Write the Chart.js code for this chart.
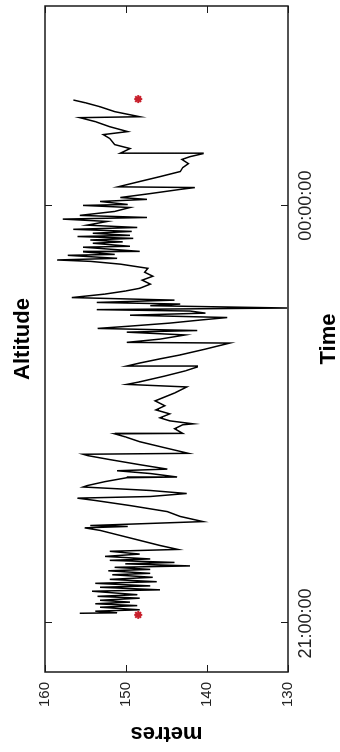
<!DOCTYPE html>
<html>
<head>
<meta charset="utf-8">
<script src="https://cdn.jsdelivr.net/npm/chart.js@4"></script>
<style>
  html, body { margin: 0; padding: 0; background: #fff; overflow: hidden; }
  /* the chart is drawn landscape and turned a quarter turn to the left */
  #wrap {
    position: absolute; left: 0; top: 0;
    width: 752px; height: 340px;
    transform-origin: 0 0;
    transform: translate(0, 752px) rotate(-90deg);
  }
</style>
</head>
<body>
<div id="wrap"><canvas id="myChart" width="752" height="340"></canvas></div>
<script>
// minutes after 21:00:00
const times = [
  4.4, 4.6, 5.3, 5.9, 7.0, 7.7, 8.5, 9.2, 10.0, 10.9,
  11.7, 12.4, 13.9, 14.5, 15.6, 16.2, 17.3, 18.0, 19.0, 19.9,
  21.0, 21.6, 22.7, 23.3, 24.2, 24.8, 25.7, 26.3, 27.2, 27.8,
  28.9, 29.9, 31.1, 31.9, 33.6, 35.8, 37.9, 40.1, 41.2, 41.8,
  42.2, 43.9, 46.1, 48.2, 50.8, 53.0, 54.0, 54.7, 56.0, 57.3,
  58.8, 59.4, 61.1, 62.8, 63.1, 64.6, 65.8, 66.5, 68.4, 70.6,
  72.3, 72.9, 73.3, 75.7, 78.3, 80.4, 81.7, 81.9, 83.9, 85.6,
  86.0, 87.3, 88.6, 90.3, 92.0, 93.8, 95.9, 97.6, 99.3, 101.9,
  103.0, 104.1, 106.6, 108.8, 110.5, 110.9, 112.2, 114.0, 115.7, 118.2,
  120.8, 121.1, 122.5, 124.3, 125.5, 126.2, 127.1, 128.1, 129.4, 130.7,
  131.8, 132.8, 133.7, 134.6, 135.2, 135.9, 136.9, 137.6, 138.3, 139.3,
  140.4, 141.9, 143.2, 144.4, 146.2, 147.9, 149.6, 151.3, 153.0, 154.8,
  156.0, 156.6, 157.3, 158.6, 159.0, 160.1, 160.3, 162.1, 162.5, 163.8,
  164.4, 165.2, 165.9, 166.7, 167.2, 168.1, 168.9, 169.8, 170.6, 171.6,
  173.2, 174.2, 174.9, 175.8, 177.5, 179.2, 180.1, 180.5, 181.8, 182.7,
  183.5, 185.2, 187.0, 187.8, 188.1, 190.4, 192.5, 194.7, 196.4, 198.1,
  199.9, 201.1, 202.4, 202.6, 204.6, 206.3, 208.9, 210.6, 211.9, 214.0,
  216.2, 217.9, 218.3, 220.5, 222.6, 224.3, 225.5
];

// metres
const altitude = [
  155.7, 151.1, 153.8, 148.3, 153.2, 148.6, 153.8, 149.5, 153.2, 148.3,
  153.5, 148.6, 154.2, 145.8, 153.2, 147.0, 153.8, 146.2, 152.0, 146.7,
  151.7, 147.0, 152.2, 147.0, 151.4, 142.1, 150.1, 144.0, 152.0, 147.0,
  152.6, 148.3, 152.0, 143.6, 145.8, 148.3, 150.7, 153.2, 155.1, 149.8,
  154.4, 140.5, 143.3, 144.9, 149.5, 153.8, 156.0, 147.0, 142.5, 147.0,
  155.3, 154.8, 152.6, 149.9, 143.7, 147.0, 151.1, 144.9, 148.3, 152.0,
  154.7, 155.3, 142.3, 145.2, 148.3, 150.1, 151.4, 143.0, 144.0, 143.0,
  141.7, 144.6, 145.8, 144.6, 146.3, 145.2, 146.4, 145.2, 144.0, 142.5,
  149.9, 148.3, 145.2, 142.7, 141.2, 149.9, 148.3, 145.8, 143.3, 140.2,
  137.2, 149.9, 145.8, 142.7, 149.9, 141.2, 153.5, 149.5, 144.6, 140.9,
  137.5, 149.5, 140.2, 142.1, 153.6, 130.1, 147.0, 143.3, 153.6, 144.0,
  156.7, 152.6, 150.1, 148.3, 147.0, 148.0, 146.7, 147.7, 147.3, 150.7,
  154.4, 158.5, 151.1, 157.2, 151.4, 155.3, 148.3, 155.3, 149.5, 154.1,
  150.4, 154.4, 149.1, 156.0, 149.5, 154.1, 149.3, 156.5, 148.6, 154.8,
  152.3, 157.8, 147.4, 155.7, 151.4, 149.5, 155.3, 149.8, 153.2, 147.4,
  150.7, 147.0, 143.3, 141.5, 151.0, 148.3, 145.8, 143.3, 143.0, 142.3,
  143.1, 142.1, 140.5, 150.7, 149.5, 151.4, 152.0, 152.8, 149.8, 152.0,
  153.8, 155.7, 148.3, 151.4, 153.2, 155.0, 156.5
];

// red markers at start and end
const markerTimes = [3.7, 225.9];
const markerValues = [148.5, 148.5];

// time axis
const timeTicks = [0, 180];
const timeLabels = ['21:00:00', '00:00:00'];
const timeMin = -20.9;
const timeMax = 266.0;

// metres axis
const altMin = 130;
const altMax = 160;

const FONT = '"Liberation Sans", Arial, Helvetica, sans-serif';

// box round the plot with short ticks pointing inwards
const frame = {
    id: 'frame',
    afterDatasetsDraw(chart) {
        const { ctx, chartArea: a, scales: { x, y } } = chart;
        ctx.save();
        ctx.strokeStyle = '#1a1a1a';
        ctx.lineWidth = 1;
        ctx.beginPath();
        x.ticks.forEach(t => {
            const px = Math.round(x.getPixelForValue(t.value)) + 0.5;
            ctx.moveTo(px, a.bottom); ctx.lineTo(px, a.bottom - 7);
            ctx.moveTo(px, a.top); ctx.lineTo(px, a.top + 7);
        });
        y.ticks.forEach(t => {
            const py = Math.round(y.getPixelForValue(t.value)) + 0.5;
            ctx.moveTo(a.left, py); ctx.lineTo(a.left + 7, py);
            ctx.moveTo(a.right, py); ctx.lineTo(a.right - 7, py);
        });
        ctx.stroke();
        ctx.lineWidth = 1.5;
        ctx.strokeRect(a.left, a.top, a.right - a.left, a.bottom - a.top);
        ctx.restore();
    }
};

const ctx = document.getElementById('myChart').getContext('2d');
const chart = new Chart(ctx, {
    type: 'line',
    data: {
        datasets: [
            {
                label: 'Markers',
                data: markerTimes.map((t, i) => ({ x: t, y: markerValues[i] })),
                showLine: false,
                pointStyle: 'star',
                pointRadius: 4,
                borderWidth: 2,
                borderColor: '#c8202c',
                backgroundColor: '#c8202c',
                order: 0
            },
            {
                label: 'Altitude',
                data: times.map((t, i) => ({ x: t, y: altitude[i] })),
                borderColor: '#000',
                borderWidth: 1.5,
                pointRadius: 0,
                tension: 0,
                fill: false,
                order: 1
            }
        ]
    },
    options: {
        responsive: false,
        animation: false,
        events: [],
        layout: { padding: { left: 0, right: 4, top: 0, bottom: 0 } },
        plugins: {
            legend: { display: false },
            tooltip: { enabled: false },
            title: {
                display: true,
                text: 'Altitude',
                fullSize: false,
                color: '#000',
                font: { family: FONT, size: 22, weight: 'bold', lineHeight: 1.2 },
                padding: { top: 10, bottom: 8.6 }
            }
        },
        scales: {
            x: {
                type: 'linear',
                min: timeMin,
                max: timeMax,
                afterBuildTicks: axis => { axis.ticks = timeTicks.map(v => ({ value: v })); },
                afterFit: axis => { axis.height = 52; },
                grid: { display: false, drawTicks: false },
                border: { display: false },
                ticks: {
                    autoSkip: false,
                    maxRotation: 0,
                    padding: 7,
                    color: '#222',
                    font: { family: FONT, size: 18 },
                    callback: value => timeLabels[timeTicks.indexOf(value)]
                },
                title: {
                    display: true,
                    text: 'Time',
                    color: '#000',
                    font: { family: FONT, size: 22, weight: 'bold', lineHeight: 1 },
                    padding: { top: 0, bottom: 0 }
                }
            },
            y: {
                min: altMin,
                max: altMax,
                afterFit: axis => { axis.width = 80; },
                grid: { display: false, drawTicks: false },
                border: { display: false },
                ticks: {
                    stepSize: 10,
                    padding: 10,
                    color: '#222',
                    font: { family: FONT, size: 15 }
                },
                title: {
                    display: true,
                    text: 'metres',
                    color: '#000',
                    font: { family: FONT, size: 22, weight: 'bold', lineHeight: 1 },
                    padding: { top: 8, bottom: 0 }
                }
            }
        }
    },
    plugins: [frame]
});
</script>
</body>
</html>
